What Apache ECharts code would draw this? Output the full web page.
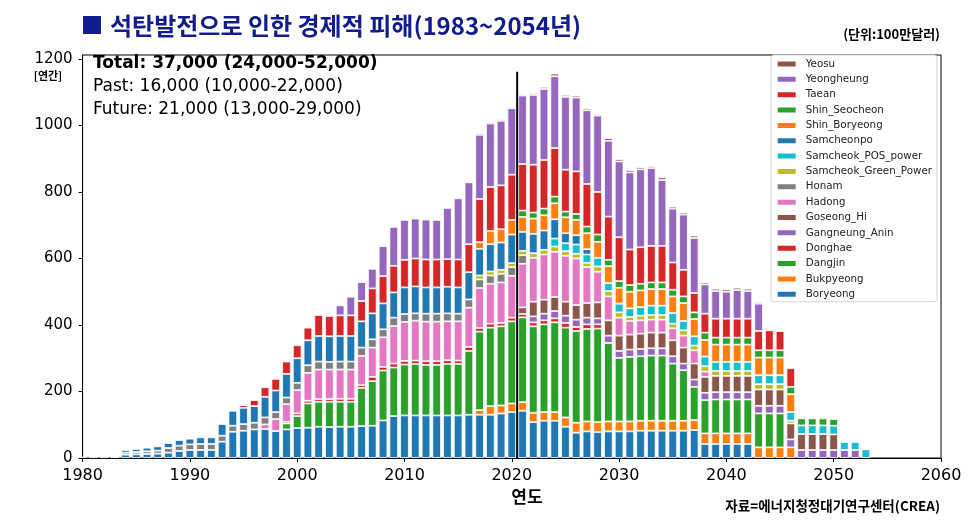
<!DOCTYPE html>
<html><head><meta charset="utf-8">
<script src="https://cdn.jsdelivr.net/npm/echarts@6/dist/echarts.min.js"></script>
<style>html,body{margin:0;padding:0;background:#fff}#c{width:970px;height:527px}</style>
</head><body><div id="c"></div>
<script>
// x-axis categories (years); data below cover 1980..2053
const axisYears = ['1980','1981','1982','1983','1984','1985','1986','1987','1988','1989',
  '1990','1991','1992','1993','1994','1995','1996','1997','1998','1999',
  '2000','2001','2002','2003','2004','2005','2006','2007','2008','2009',
  '2010','2011','2012','2013','2014','2015','2016','2017','2018','2019',
  '2020','2021','2022','2023','2024','2025','2026','2027','2028','2029',
  '2030','2031','2032','2033','2034','2035','2036','2037','2038','2039',
  '2040','2041','2042','2043','2044','2045','2046','2047','2048','2049',
  '2050','2051','2052','2053','2054','2055','2056','2057','2058','2059','2060'];

// values per plant, one per year (1980..2053), 0 = no bar
const Boryeong = [0,0,0,0,10,11,12,13,16,21,
  24,24,24,49,79,82,86,87,81,86,
  90,91,94,93,94,94,96,97,113,126,
  128,128,128,128,128,128,130,130,130,134,
  138,142,108,112,112,94,76,80,78,80,
  80,80,82,82,82,82,82,84,42,42,
  42,42,42,0,0,0,0,0,0,0,
  0,0,0,0];
const Bukpyeong = [0,0,0,0,0,0,0,0,0,0,
  0,0,0,0,0,0,0,0,0,0,
  0,0,0,0,0,0,0,0,0,0,
  0,0,0,0,0,0,0,14,26,24,
  26,26,28,26,26,28,30,30,30,30,
  30,30,30,30,30,30,30,30,32,32,
  32,32,32,32,32,32,32,0,0,0,
  0,0,0,0];
const Dangjin = [0,0,0,0,0,0,0,0,0,0,
  0,0,0,0,0,0,0,0,0,18,
  36,73,75,76,75,75,115,134,150,146,
  153,155,152,152,155,155,192,236,236,238,
  247,255,260,264,270,270,276,278,281,236,
  191,194,194,196,196,172,152,100,100,102,
  102,102,102,102,102,102,0,0,0,0,
  0,0,0,0];
const Donghae = [0,0,0,0,0,0,0,0,0,0,
  0,0,0,0,0,0,0,0,0,5,
  8,8,8,8,9,9,8,13,11,12,
  11,10,11,11,11,10,12,11,12,10,
  11,10,12,12,12,14,12,14,13,0,
  0,0,0,0,0,0,0,0,0,0,
  0,0,0,0,0,0,0,0,0,0,
  0,0,0,0];
const Gangneung_Anin = [0,0,0,0,0,0,0,0,0,0,
  0,0,0,0,0,0,0,0,0,0,
  0,0,0,0,0,0,0,0,0,0,
  0,0,0,0,0,0,0,0,0,0,
  0,0,18,20,22,22,22,20,18,22,
  21,22,22,22,22,22,20,22,22,22,
  22,22,22,23,23,23,24,24,24,24,
  24,24,24,0];
const Goseong_Hi = [0,0,0,0,0,0,0,0,0,0,
  0,0,0,0,0,0,0,0,0,0,
  0,0,0,0,0,0,0,0,0,0,
  0,0,0,0,0,0,0,0,0,0,
  0,20,44,42,42,42,44,44,48,46,
  46,45,46,47,47,48,48,48,48,49,
  49,49,49,49,49,49,48,48,48,48,
  47,0,0,0];
const Hadong = [0,0,0,0,0,0,0,0,0,0,
  0,0,0,0,0,0,0,14,36,53,
  70,84,89,89,88,88,88,88,89,113,
  117,120,119,119,117,118,118,120,120,122,
  126,131,132,136,136,138,140,108,92,72,
  54,41,40,39,39,36,36,40,16,0,
  0,0,0,0,0,0,0,0,0,0,
  0,0,0,0];
const Honam = [4,4,4,4,6,7,8,9,14,16,
  17,18,18,18,18,20,20,21,21,20,
  22,23,24,23,24,24,25,25,24,25,
  24,22,24,24,24,23,25,26,25,26,
  26,26,0,0,0,0,0,0,0,0,
  0,0,0,0,0,0,0,0,0,0,
  0,0,0,0,0,0,0,0,0,0,
  0,0,0,0];
const Samcheok_Green_Power = [0,0,0,0,0,0,0,0,0,0,
  0,0,0,0,0,0,0,0,0,0,
  0,0,0,0,0,0,0,0,0,0,
  0,0,0,0,0,0,0,12,12,12,
  12,13,14,14,16,14,14,13,16,16,
  16,12,14,14,14,14,16,14,16,15,
  15,15,15,16,16,16,8,0,0,0,
  0,0,0,0];
const Samcheok_POS_power = [0,0,0,0,0,0,0,0,0,0,
  0,0,0,0,0,0,0,0,0,0,
  0,0,0,0,0,0,0,0,0,0,
  0,0,0,0,0,0,0,0,0,0,
  0,0,0,0,24,24,28,25,26,24,
  26,26,26,28,28,32,28,28,29,27,
  27,27,27,27,27,27,26,26,26,26,
  26,24,24,26];
const Samcheonpo = [0,0,0,0,8,9,11,13,15,17,
  17,20,20,35,45,49,50,62,65,71,
  74,75,77,77,77,77,79,78,78,76,
  80,81,79,79,80,79,82,80,82,82,
  86,57,58,58,58,30,28,16,0,0,
  0,0,0,0,0,0,0,0,0,0,
  0,0,0,0,0,0,0,0,0,0,
  0,0,0,0];
const Shin_Boryeong = [0,0,0,0,0,0,0,0,0,0,
  0,0,0,0,0,0,0,0,0,0,
  0,0,0,0,0,0,0,0,0,0,
  0,0,0,0,0,0,0,20,40,40,
  44,45,46,46,48,48,46,48,48,51,
  48,50,50,50,50,50,54,52,50,52,
  52,52,52,53,53,53,54,0,0,0,
  0,0,0,0];
const Shin_Seocheon = [0,0,0,0,0,0,0,0,0,0,
  0,0,0,0,0,0,0,0,0,0,
  0,0,0,0,0,0,0,0,0,0,
  0,0,0,0,0,0,0,0,0,0,
  0,19,18,20,20,17,18,20,22,19,
  20,20,20,20,20,20,20,20,22,21,
  21,21,21,22,22,22,22,21,21,21,
  20,0,0,0];
const Taean = [0,0,0,0,0,0,0,0,0,0,
  0,0,0,0,0,8,18,29,35,37,
  39,38,63,61,62,62,61,75,82,80,
  83,84,84,84,83,84,84,130,132,132,
  136,140,144,146,146,126,128,128,128,130,
  132,107,110,110,110,82,80,58,57,57,
  57,57,57,58,60,58,56,0,0,0,
  0,0,0,0];
const Yeongheung = [0,0,0,0,0,0,0,0,0,0,
  0,0,0,0,0,0,0,0,0,0,
  0,0,0,0,30,56,57,59,90,117,
  120,120,120,119,154,184,186,193,191,194,
  200,206,210,214,216,219,222,222,230,228,
  228,232,234,234,198,162,166,166,88,83,
  81,86,83,82,0,0,0,0,0,0,
  0,0,0,0];
const Yeosu = [0,0,0,0,0,0,0,0,0,0,
  0,0,0,0,0,0,0,0,0,0,
  0,0,0,0,0,0,0,0,0,0,
  0,0,3,3,3,4,3,4,4,4,
  4,4,5,6,8,6,6,6,4,8,
  7,7,6,6,8,6,6,7,6,7,
  7,7,7,5,2,2,0,0,0,0,
  0,0,0,0];

const seriesNames = ['Boryeong','Bukpyeong','Dangjin','Donghae','Gangneung_Anin','Goseong_Hi','Hadong','Honam',
  'Samcheok_Green_Power','Samcheok_POS_power','Samcheonpo','Shin_Boryeong','Shin_Seocheon','Taean','Yeongheung','Yeosu'];
const seriesValues = [Boryeong,Bukpyeong,Dangjin,Donghae,Gangneung_Anin,Goseong_Hi,Hadong,Honam,
  Samcheok_Green_Power,Samcheok_POS_power,Samcheonpo,Shin_Boryeong,Shin_Seocheon,Taean,Yeongheung,Yeosu];
const seriesColors = ['#1f77b4','#ff7f0e','#2ca02c','#d62728','#9467bd','#8c564b','#e377c2','#7f7f7f',
  '#bcbd22','#17becf','#1f77b4','#ff7f0e','#2ca02c','#d62728','#9467bd','#8c564b'];

const yTicks = [0,200,400,600,800,1000,1200];
const divideYear = 2020.5;
const divideTop = 1162;

const titleText = '석탄발전으로 인한 경제적 피해(1983~2054년)';
const unitText = '(단위:100만달러)';
const yUnitText = '[연간]';
const xTitle = '연도';
const sourceText = '자료=에너지청정대기연구센터(CREA)';
const noteLines = ['Total: 37,000 (24,000-52,000)','Past: 16,000 (10,000-22,000)','Future: 21,000 (13,000-29,000)'];

const NAVY = '#111c8e';
const DV = 'DejaVu Sans';
const KR = '"Noto Sans CJK KR"';

const series = seriesNames.map((n, k) => ({
  name: n, type: 'bar', stack: 'total', barWidth: 8.6,
  itemStyle: { color: seriesColors[k], borderColor: '#ffffff', borderWidth: 0.8 },
  data: seriesValues[k].map(v => (v ? v : null))
}));
series.push({
  type: 'line', z: 5, symbol: 'none', silent: true, xAxisIndex: 1,
  lineStyle: { color: '#000', width: 2 },
  data: [[divideYear, 0], [divideYear, divideTop]]
});

function txt(x, y, text, font, align, extra) {
  return Object.assign({ type: 'text', x: x, y: y, z: 10,
    style: { text: text, font: font, fill: '#000', align: align, verticalAlign: 'middle', textAlign: align, textVerticalAlign: 'middle' } }, extra || {});
}

const chart = echarts.init(document.getElementById('c'), null, { renderer: 'canvas' });
chart.setOption({
  animation: false,
  backgroundColor: '#fff',
  grid: { left: 82.6, right: 29, top: 55, bottom: 69, show: true, borderColor: '#000', borderWidth: 1, containLabel: false },
  xAxis: [{
    type: 'category', data: axisYears, boundaryGap: false,
    axisLine: { show: true, onZero: false, lineStyle: { color: '#000', width: 1 } },
    axisTick: { show: true, length: 4, interval: 9, lineStyle: { color: '#000' } },
    axisLabel: { color: '#000', fontSize: 16, fontFamily: DV, margin: 10, interval: 9 },
    splitLine: { show: false }
  }, {
    type: 'value', min: 1980, max: 2060, show: false
  }],
  yAxis: {
    type: 'value', min: 0, max: 1212, interval: 200,
    axisLine: { show: true, lineStyle: { color: '#000', width: 1 } },
    axisTick: { show: true, length: 4, lineStyle: { color: '#000' }, customValues: yTicks },
    axisLabel: { color: '#000', fontSize: 15, fontFamily: DV, margin: 10, customValues: yTicks, formatter: v => String(v) },
    splitLine: { show: false }
  },
  legend: {
    orient: 'vertical', left: 771, top: 55,
    data: seriesNames.slice().reverse(),
    icon: 'rect', itemWidth: 20, itemHeight: 7, itemGap: 2.35,
    padding: [2.5, 5, 1, 4.7],
    backgroundColor: '#fff', borderColor: '#d4d4d4', borderWidth: 1, borderRadius: 3,
    selectedMode: false,
    textStyle: { fontFamily: DV, fontSize: 10.3, color: '#222', lineHeight: 13, padding: [0, 0, 0, 4] }
  },
  graphic: [
    { type: 'rect', shape: { x: 83, y: 16, width: 18, height: 18 }, style: { fill: NAVY } },
    { type: 'text', x: 110, y: 26,
      style: { text: titleText, font: 'bold 24px ' + KR, fill: NAVY, align: 'left', verticalAlign: 'middle', textAlign: 'left', textVerticalAlign: 'middle' } },
    txt(940, 34, unitText, 'bold 13px ' + KR, 'right'),
    txt(48, 76, yUnitText, 'bold 11px ' + KR, 'center'),
    txt(93, 64, noteLines[0], 'bold 17px ' + DV, 'left'),
    txt(93, 87, noteLines[1], '17px ' + DV, 'left'),
    txt(93, 110, noteLines[2], '17px ' + DV, 'left'),
    txt(527, 497, xTitle, 'bold 17px ' + KR, 'center'),
    txt(940, 506, sourceText, 'bold 13.5px ' + KR, 'right')
  ],
  series: series
});
</script></body></html>
